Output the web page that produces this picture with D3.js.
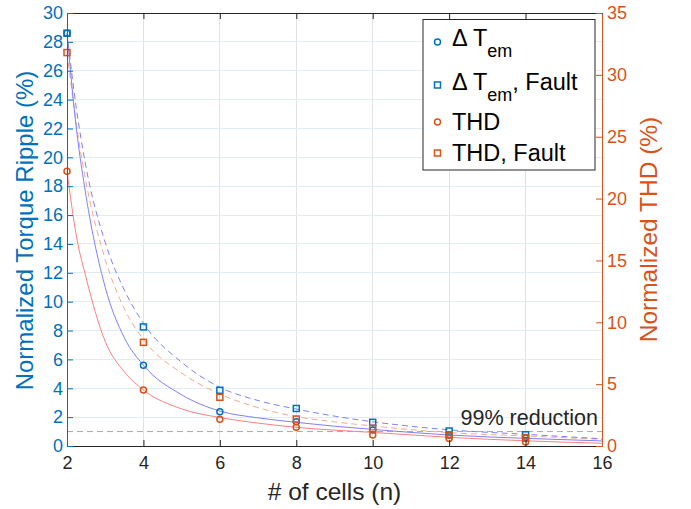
<!DOCTYPE html>
<html>
<head>
<meta charset="utf-8">
<script src="https://cdn.jsdelivr.net/npm/d3@7"></script>
<style>
  html, body { margin: 0; padding: 0; background: #fff; }
  svg text { font-family: "Liberation Sans", Arial, Helvetica, sans-serif; }
</style>
</head>
<body>
<svg id="chart" width="691" height="509"></svg>
<script>
// ---- data ----
const cellsPts = [2, 4, 6, 8, 10, 12, 14];
const rippleHealthy = [28.6, 5.6, 2.38, 1.68, 1.1, 0.76, 0.55];
const rippleFault = [28.6, 8.25, 3.86, 2.6, 1.64, 1.04, 0.78];
const thdHealthy = [22.2, 4.53, 2.16, 1.51, 0.89, 0.6, 0.33];
const thdFault = [31.8, 8.38, 3.94, 2.18, 1.43, 0.89, 0.65];

const fitCells = [2, 2.25, 2.5, 3, 3.5, 4, 5, 6, 7, 8, 9, 10, 12, 14, 16];
const rippleHealthyFit = [28.6, 21.9, 17.3, 11.0, 7.5, 5.6, 3.55, 2.42, 1.95, 1.64, 1.37, 1.15, 0.76, 0.53, 0.35];
const rippleFaultFit = [28.6, 23.3, 19.3, 14.1, 10.8, 8.5, 5.8, 4.07, 3.15, 2.56, 2.07, 1.68, 1.12, 0.81, 0.5];
const thdHealthyFit = [22.2, 16.9, 13.6, 8.45, 6.0, 4.53, 3.0, 2.3, 1.85, 1.51, 1.28, 1.1, 0.7, 0.42, 0.22];
const thdFaultFit = [31.8, 25.9, 21.3, 15.1, 11.1, 8.6, 5.9, 4.2, 3.1, 2.37, 1.95, 1.62, 1.08, 0.81, 0.54];

const reductionLevel = 1;
const xTicks = [2, 4, 6, 8, 10, 12, 14, 16];
const leftTicks = [0, 2, 4, 6, 8, 10, 12, 14, 16, 18, 20, 22, 24, 26, 28, 30];
const rightTicks = [0, 5, 10, 15, 20, 25, 30, 35];
const legendLabels = ["\u0394 T", "\u0394 T", "THD", "THD, Fault"];

// ---- layout ----
const L = 67, R = 602, T = 13, B = 446;
const blue = "#0072BD", orange = "#D95319", dark = "#262626";
const svg = d3.select("#chart");

const x = d3.scaleLinear().domain([2, 16]).range([L, R]);
const yL = d3.scaleLinear().domain([0, 30]).range([B, T]);
const yR = d3.scaleLinear().domain([0, 35]).range([B, T]);

// grid
const grid = svg.append("g");
grid.selectAll("line.vx").data(xTicks).join("line")
  .attr("x1", d => x(d)).attr("x2", d => x(d)).attr("y1", T).attr("y2", B)
  .attr("stroke", "#e2e2e2").attr("stroke-width", 1).attr("shape-rendering", "crispEdges");
grid.selectAll("line.hy").data(leftTicks).join("line")
  .attr("x1", L).attr("x2", R).attr("y1", d => yL(d)).attr("y2", d => yL(d))
  .attr("stroke", "#e0edf7").attr("stroke-width", 1).attr("shape-rendering", "crispEdges");

// reference line
svg.append("line")
  .attr("x1", x(2)).attr("x2", x(16)).attr("y1", yL(reductionLevel)).attr("y2", yL(reductionLevel))
  .attr("stroke", "#a8a8a8").attr("stroke-width", 1).attr("stroke-dasharray", "6,4");

// fit curves
function drawCurve(vals, yScale, color, dashed) {
  const line = d3.line().x((d, i) => x(fitCells[i])).y(d => yScale(d)).curve(d3.curveMonotoneX);
  svg.append("path").datum(vals).attr("d", line)
    .attr("fill", "none").attr("stroke", color).attr("stroke-width", 1)
    .attr("stroke-dasharray", dashed ? "6,4" : null);
}
drawCurve(thdHealthyFit, yR, "#ff7f7f", false);
drawCurve(thdFaultFit, yR, "#f5a98a", true);
drawCurve(rippleHealthyFit, yL, "#7f7fff", false);
drawCurve(rippleFaultFit, yL, "#7f7fff", true);

// markers
function circles(vals, yScale, color) {
  svg.append("g").selectAll("circle").data(vals).join("circle")
    .attr("cx", (d, i) => x(cellsPts[i])).attr("cy", d => yScale(d)).attr("r", 3)
    .attr("fill", "none").attr("stroke", color).attr("stroke-width", 1.5);
}
function squares(vals, yScale, color) {
  svg.append("g").selectAll("rect").data(vals).join("rect")
    .attr("x", (d, i) => x(cellsPts[i]) - 3).attr("y", d => yScale(d) - 3)
    .attr("width", 6).attr("height", 6)
    .attr("fill", "none").attr("stroke", color).attr("stroke-width", 1.5);
}
squares(rippleFault, yL, blue);
circles(rippleHealthy, yL, blue);
squares(thdFault, yR, orange);
circles(thdHealthy, yR, orange);

// axes
const tickFont = 18;
const xAxisB = d3.axisBottom(x).tickValues(xTicks).tickSizeInner(-6).tickSizeOuter(0).tickPadding(10);
const gxb = svg.append("g").attr("transform", `translate(0,${B})`).call(xAxisB);
gxb.select(".domain").attr("stroke", dark);
gxb.selectAll(".tick line").attr("stroke", dark);
gxb.selectAll(".tick text").attr("fill", dark).attr("font-size", tickFont).attr("font-family", null);

const xAxisT = d3.axisTop(x).tickValues(xTicks).tickSizeInner(-6).tickSizeOuter(0).tickFormat("");
const gxt = svg.append("g").attr("transform", `translate(0,${T})`).call(xAxisT);
gxt.select(".domain").attr("stroke", dark);
gxt.selectAll(".tick line").attr("stroke", dark);

const yAxisL = d3.axisLeft(yL).tickValues(leftTicks).tickSizeInner(-6).tickSizeOuter(0).tickPadding(4);
const gyl = svg.append("g").attr("transform", `translate(${L},0)`).call(yAxisL);
gyl.select(".domain").attr("stroke", blue);
gyl.selectAll(".tick line").attr("stroke", blue);
gyl.selectAll(".tick text").attr("fill", blue).attr("font-size", tickFont).attr("font-family", null);

const yAxisR = d3.axisRight(yR).tickValues(rightTicks).tickSizeInner(-6).tickSizeOuter(0).tickPadding(5);
const gyr = svg.append("g").attr("transform", `translate(${R},0)`).call(yAxisR);
gyr.select(".domain").attr("stroke", orange);
gyr.selectAll(".tick line").attr("stroke", orange);
gyr.selectAll(".tick text").attr("fill", orange).attr("font-size", tickFont).attr("font-family", null);

// axis labels
svg.append("text").attr("x", (L + R) / 2).attr("y", 500).attr("text-anchor", "middle")
  .attr("font-size", 24.5).attr("fill", dark).text("# of cells (n)");
svg.append("text").attr("transform", `translate(33,${(T + B) / 2 + 1}) rotate(-90)`).attr("text-anchor", "middle")
  .attr("font-size", 24).attr("fill", blue).text("Normalized Torque Ripple (%)");
svg.append("text").attr("transform", `translate(657,${(T + B) / 2}) rotate(-90)`).attr("text-anchor", "middle")
  .attr("font-size", 24.5).attr("fill", orange).text("Normalized THD (%)");

// annotation
svg.append("text").attr("x", 598).attr("y", 425).attr("text-anchor", "end")
  .attr("font-size", 21.5).attr("fill", dark).text("99% reduction");

// legend
const lg = svg.append("g");
lg.append("rect").attr("x", 423).attr("y", 19.5).attr("width", 172).attr("height", 150.5)
  .attr("fill", "#fff").attr("stroke", dark).attr("stroke-width", 1);
const rowsY = [42, 85, 122, 153];
const markerKinds = [["c", blue], ["s", blue], ["c", orange], ["s", orange]];
markerKinds.forEach((m, i) => {
  if (m[0] === "c") {
    lg.append("circle").attr("cx", 437.5).attr("cy", rowsY[i]).attr("r", 3)
      .attr("fill", "none").attr("stroke", m[1]).attr("stroke-width", 1.5);
  } else {
    lg.append("rect").attr("x", 434.5).attr("y", rowsY[i] - 3).attr("width", 6).attr("height", 6)
      .attr("fill", "none").attr("stroke", m[1]).attr("stroke-width", 1.5);
  }
});
const legFont = 23.5;
// row 1
let t1 = lg.append("text").attr("x", 452).attr("y", 46).attr("font-size", legFont).attr("fill", "#000");
t1.append("tspan").text(legendLabels[0]);
t1.append("tspan").attr("dy", 11).attr("font-size", 18).text("em");
// row 2
let t2 = lg.append("text").attr("x", 452).attr("y", 90).attr("font-size", legFont).attr("fill", "#000");
t2.append("tspan").text(legendLabels[1]);
t2.append("tspan").attr("dy", 11).attr("font-size", 18).text("em");
t2.append("tspan").attr("dy", -11).text(", Fault");
// rows 3,4
lg.append("text").attr("x", 452).attr("y", 130).attr("font-size", legFont).attr("fill", "#000").text(legendLabels[2]);
lg.append("text").attr("x", 452).attr("y", 161).attr("font-size", legFont).attr("fill", "#000").text(legendLabels[3]);
</script>
</body>
</html>
